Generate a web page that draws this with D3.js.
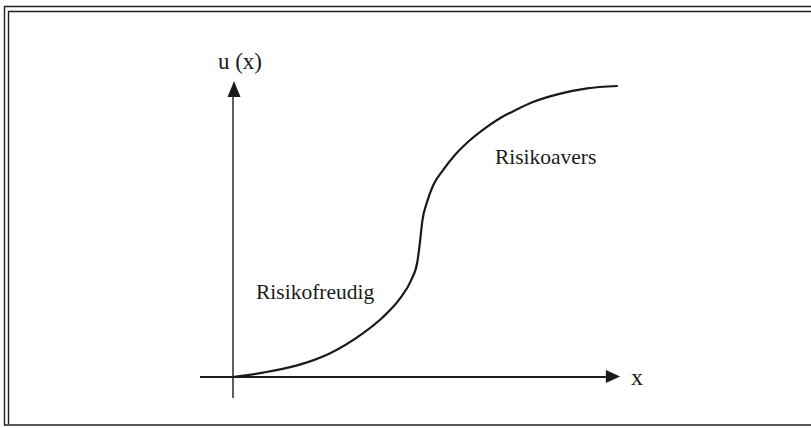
<!DOCTYPE html>
<html>
<head>
<meta charset="utf-8">
<script src="https://cdn.jsdelivr.net/npm/d3@7"></script>
<style>
  html, body { margin: 0; padding: 0; background: #fff; }
  svg { display: block; }
</style>
</head>
<body>
<svg id="chart" width="811" height="428"></svg>
<script>
// ---- data (x in % of axis length, u(x) in % of max utility) ----
const curveX = [0, 7.8, 16.7, 25.3, 33.9, 38.8, 43.5, 46.4, 48.0, 48.7, 49.3, 50.5, 52.1, 54.7, 57.8, 60.9, 65.6, 69.5, 74.0, 78.1, 85.0, 92.2, 100];
const curveY = [0, 1.5, 4.0, 8.2, 15.1, 20.3, 27.0, 33.3, 39.5, 46.5, 53.6, 60.0, 65.8, 71.1, 76.3, 80.4, 85.4, 88.9, 92.0, 94.5, 97.3, 99.2, 100];
const axisLabels = ["u (x)", "x"];
const regionLabels = ["Risikoavers", "Risikofreudig"];
const regionLabelPos = [[68.2, 73.2], [6.0, 26.8]]; // [x, y] in data units (text start, baseline)

// ---- layout ----
const W = 811, H = 428;
const serif = "'Liberation Serif', 'DejaVu Serif', 'Times New Roman', serif";
const svg = d3.select("#chart");
const x = d3.scaleLinear().domain([0, 100]).range([233, 617]);
const y = d3.scaleLinear().domain([0, 100]).range([377, 86]);
const ink = "#1a1a1a";

// frame (double line on left & top)
const frame = svg.append("g").attr("stroke", "#222").attr("stroke-width", 1.4).attr("fill", "none");
frame.append("path").attr("d", `M${W},6.5 H4.5 V425 H${W}`);
frame.append("path").attr("d", `M${W},11.5 H8.5 V424`);

// axes
const xAxisStart = -8.6, xAxisEnd = 97.1, xTip = 100.8;
const yAxisStart = -7.2, yAxisEnd = 96.2, yTip = 101.7;
svg.append("line")
  .attr("x1", x(xAxisStart)).attr("x2", x(xAxisEnd))
  .attr("y1", y(0)).attr("y2", y(0))
  .attr("stroke", ink).attr("stroke-width", 1.8);
svg.append("line")
  .attr("x1", x(0)).attr("x2", x(0))
  .attr("y1", y(yAxisStart)).attr("y2", y(yAxisEnd))
  .attr("stroke", ink).attr("stroke-width", 1.4);

// arrowheads
const ah = 6.5;
svg.append("path")
  .attr("d", `M${x(xTip)},${y(0) - 0.5} L${x(xAxisEnd)},${y(0) - 0.5 - ah} L${x(xAxisEnd)},${y(0) - 0.5 + ah} Z`)
  .attr("fill", ink);
svg.append("path")
  .attr("d", `M${x(0) + 1},${y(yTip)} L${x(0) + 1 - ah},${y(yAxisEnd)} L${x(0) + 1 + ah},${y(yAxisEnd)} Z`)
  .attr("fill", ink);

// curve
const pts = curveX.map((v, i) => [v, curveY[i]]);
const line = d3.line()
  .x(d => x(d[0])).y(d => y(d[1]))
  .curve(d3.curveMonotoneX);
svg.append("path")
  .datum(pts)
  .attr("d", line)
  .attr("fill", "none")
  .attr("stroke", ink)
  .attr("stroke-width", 2.2)
  .attr("stroke-linecap", "round");

// axis labels
svg.append("text")
  .attr("x", x(0) + 7).attr("y", 69)
  .attr("text-anchor", "middle")
  .attr("font-family", serif)
  .attr("font-size", 23)
  .attr("fill", ink)
  .text(axisLabels[0]);
svg.append("text")
  .attr("x", x(xTip) + 11).attr("y", 385)
  .attr("font-family", serif)
  .attr("font-size", 24)
  .attr("fill", ink)
  .text(axisLabels[1]);

// region labels
regionLabels.forEach((t, i) => {
  svg.append("text")
    .attr("x", x(regionLabelPos[i][0]))
    .attr("y", y(regionLabelPos[i][1]))
    .attr("font-family", serif)
    .attr("font-size", 21.5)
    .attr("fill", ink)
    .text(t);
});
</script>
</body>
</html>
